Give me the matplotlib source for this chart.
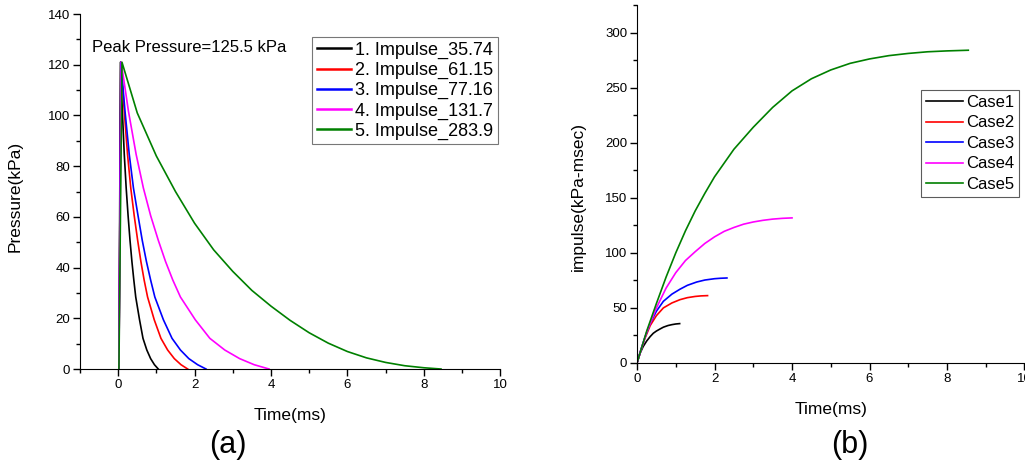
import matplotlib
matplotlib.use("Agg")
import matplotlib.pyplot as plt
from matplotlib.ticker import MultipleLocator

plt.rcParams['font.family'] = ['Liberation Sans', 'DejaVu Sans']

# ---- Panel (a): pressure-time histories ----
t1 = [0.02, 0.06, 0.11, 0.16, 0.21, 0.26, 0.31, 0.36, 0.41, 0.46, 0.56, 0.65, 0.75, 0.85, 0.95, 1.05]
p1 = [0, 121, 101.6, 84.7, 71.4, 60.5, 50.8, 42.4, 35.1, 28.4, 19.4, 12.1, 7.5, 4.1, 1.7, 0]
t2 = [0.02, 0.07, 0.16, 0.245, 0.33, 0.42, 0.51, 0.595, 0.68, 0.77, 0.945, 1.12, 1.295, 1.47, 1.645, 1.82]
p2 = [0, 121, 101.6, 84.7, 71.4, 60.5, 50.8, 42.4, 35.1, 28.4, 19.4, 12.1, 7.5, 4.1, 1.7, 0]
t3 = [0.02, 0.07, 0.18, 0.29, 0.40, 0.52, 0.63, 0.74, 0.85, 0.96, 1.185, 1.41, 1.63, 1.85, 2.08, 2.3]
p3 = [0, 121, 101.6, 84.7, 71.4, 60.5, 50.8, 42.4, 35.1, 28.4, 19.4, 12.1, 7.5, 4.1, 1.7, 0]
t4 = [0.02, 0.08, 0.27, 0.47, 0.66, 0.85, 1.05, 1.24, 1.43, 1.63, 2.02, 2.40, 2.79, 3.18, 3.56, 3.95]
p4 = [0, 121, 101.6, 84.7, 71.4, 60.5, 50.8, 42.4, 35.1, 28.4, 19.4, 12.1, 7.5, 4.1, 1.7, 0]
t5 = [0.02, 0.1, 0.5, 1, 1.5, 2, 2.5, 3, 3.5, 4, 4.5, 5, 5.5, 6, 6.5, 7, 7.5, 8, 8.45]
p5 = [0, 121, 101, 84, 70, 57.5, 47, 38.5, 31, 24.8, 19.2, 14.3, 10.2, 6.9, 4.4, 2.6, 1.3, 0.5, 0]
labels_a = ["1. Impulse_35.74", "2. Impulse_61.15", "3. Impulse_77.16",
            "4. Impulse_131.7", "5. Impulse_283.9"]

# ---- Panel (b): cumulative impulse ----
s1 = [0, 0.08, 0.16, 0.25, 0.34, 0.42, 0.5, 0.6, 0.68, 0.8, 0.9, 1.0, 1.1]
i1 = [0, 9, 15, 20, 24, 27, 29, 31, 32.5, 34, 34.8, 35.4, 35.74]
s2 = [0, 0.1, 0.2, 0.34, 0.5, 0.68, 0.9, 1.11, 1.3, 1.5, 1.65, 1.82]
i2 = [0, 12, 22, 34, 43, 50, 54.5, 57.5, 59.3, 60.4, 60.9, 61.15]
s3 = [0, 0.1, 0.2, 0.34, 0.5, 0.68, 0.9, 1.11, 1.3, 1.54, 1.75, 2.0, 2.15, 2.32]
i3 = [0, 12, 23, 36, 47, 56, 62.5, 67, 70.5, 73.5, 75.3, 76.5, 76.9, 77.16]
s4 = [0, 0.25, 0.5, 0.75, 1.0, 1.25, 1.5, 1.75, 2.0, 2.25, 2.5, 2.75, 3.0, 3.25, 3.5, 3.75, 4.0]
i4 = [0, 28, 50, 68, 82, 93, 101, 108.5, 114.5, 119.5, 123, 126, 128, 129.5, 130.6, 131.3, 131.7]
s5 = [0, 0.25, 0.5, 0.75, 1, 1.25, 1.5, 1.75, 2, 2.5, 3, 3.5, 4, 4.5, 5, 5.5, 6, 6.5, 7, 7.5, 8, 8.55]
i5 = [0, 29, 54, 78, 100, 120, 138, 154, 169, 194, 214, 232, 247, 258, 266, 272, 276, 279, 281, 282.5, 283.3, 283.9]
labels_b = ["Case1", "Case2", "Case3", "Case4", "Case5"]

colors = ["black", "red", "blue", "magenta", "green"]

fig = plt.figure(figsize=(10.25, 4.68), dpi=100)

def style(ax):
    for s in ("top", "right"):
        ax.spines[s].set_visible(False)
    ax.tick_params(which="major", direction="out", length=5, width=1, labelsize=9.5, pad=2)
    ax.tick_params(which="minor", direction="out", length=3, width=1)

ax1 = fig.add_axes([0.078, 0.2115, 0.410, 0.7585])
for t, p, c, lab in zip([t1, t2, t3, t4, t5], [p1, p2, p3, p4, p5], colors, labels_a):
    ax1.plot(t, p, color=c, lw=1.2, label=lab)
ax1.set_xlim(-1, 10)
ax1.set_ylim(0, 140)
ax1.xaxis.set_major_locator(MultipleLocator(2))
ax1.xaxis.set_minor_locator(MultipleLocator(1))
ax1.yaxis.set_major_locator(MultipleLocator(20))
ax1.yaxis.set_minor_locator(MultipleLocator(10))
style(ax1)
ax1.set_xlabel("Time(ms)", fontsize=12.5)
ax1.set_ylabel("Pressure(kPa)", fontsize=12.5)
ax1.xaxis.set_label_coords(0.5, -0.11)
ax1.yaxis.set_label_coords(-0.136, 0.485)
ax1.text(-0.68, 127, "Peak Pressure=125.5 kPa", fontsize=12, va="center", ha="left")
leg1 = ax1.legend(loc="upper right", bbox_to_anchor=(0.995, 0.935), fontsize=13,
                  frameon=True, fancybox=False, edgecolor="#555555",
                  handlelength=1.9, handletextpad=0.25, labelspacing=0.17,
                  borderpad=0.25, borderaxespad=0)
leg1.get_frame().set_linewidth(0.8)
for ln in leg1.get_lines():
    ln.set_linewidth(1.8)

ax2 = fig.add_axes([0.6215, 0.2244, 0.378, 0.765])
for s, i, c, lab in zip([s1, s2, s3, s4, s5], [i1, i2, i3, i4, i5], colors, labels_b):
    ax2.plot(s, i, color=c, lw=1.2, label=lab)
ax2.set_xlim(0, 10)
ax2.set_ylim(0, 325)
ax2.xaxis.set_major_locator(MultipleLocator(2))
ax2.xaxis.set_minor_locator(MultipleLocator(1))
ax2.yaxis.set_major_locator(MultipleLocator(50))
ax2.yaxis.set_minor_locator(MultipleLocator(25))
style(ax2)
ax2.set_xlabel("Time(ms)", fontsize=12.5)
ax2.set_ylabel("impulse(kPa-msec)", fontsize=12.5)
ax2.xaxis.set_label_coords(0.5, -0.11)
ax2.yaxis.set_label_coords(-0.132, 0.466)
leg2 = ax2.legend(loc="upper right", bbox_to_anchor=(0.987, 0.7626), fontsize=12,
                  frameon=True, fancybox=False, edgecolor="#333333",
                  handlelength=2.2, handletextpad=0.2, labelspacing=0.33,
                  borderpad=0.3, borderaxespad=0)
leg2.get_frame().set_linewidth(0.8)

fig.text(228 / 1025, 1 - 445 / 468, "(a)", fontsize=22, ha="center", va="center")
fig.text(850 / 1025, 1 - 445 / 468, "(b)", fontsize=22, ha="center", va="center")

fig.savefig("out.png", dpi=100)
